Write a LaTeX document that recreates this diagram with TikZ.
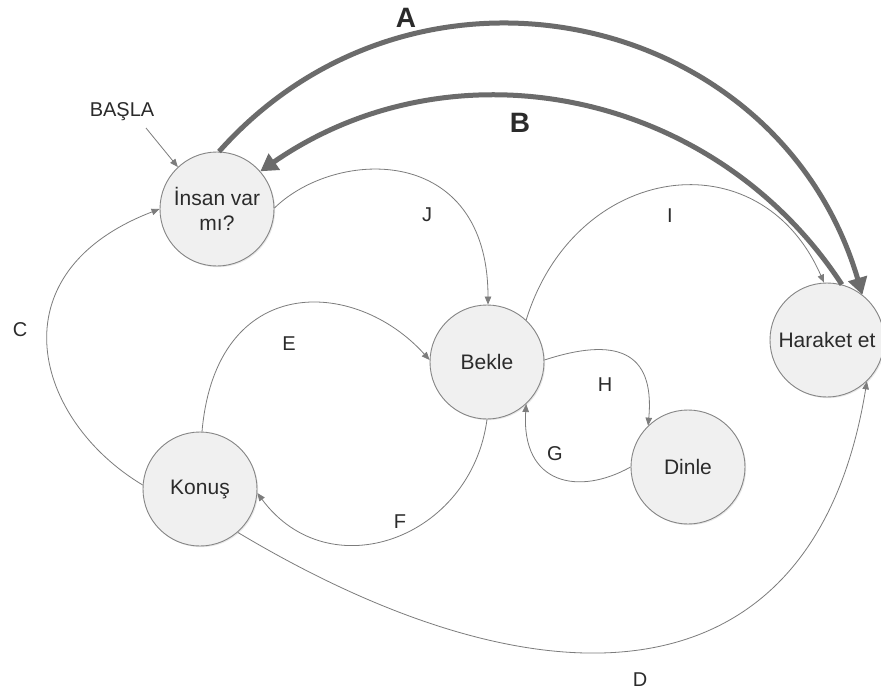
\documentclass[tikz,border=0pt]{standalone}
\usepackage{fontspec}
\setmainfont{Liberation Sans}
\usetikzlibrary{arrows.meta,shadows}

\definecolor{edgegray}{HTML}{7C7C7C}
\definecolor{thickgray}{HTML}{6B6B6B}
\definecolor{circfill}{HTML}{F0F0F0}
\definecolor{circline}{HTML}{858585}
\definecolor{inkgray}{HTML}{2B2B2B}

\tikzset{
  state/.style={circle, draw=circline, line width=0.9pt, fill=circfill,
    minimum size=114pt, inner sep=0pt, align=center, text=inkgray,
    font=\fontsize{21}{25}\selectfont,
    drop shadow={opacity=0.18, shadow xshift=1.2pt, shadow yshift=-1.2pt}},
  lbl/.style={inner sep=0pt, text=inkgray, font=\fontsize{20}{24}\selectfont},
  biglbl/.style={inner sep=0pt, text=inkgray, font=\fontsize{28}{32}\selectfont\bfseries},
  thinedge/.style={draw=edgegray, line width=0.8pt,
    -{Triangle[length=8pt,width=6.5pt]}},
  bigedge/.style={draw=thickgray, line width=5pt,
    -{Triangle[length=17pt,width=19pt]}}
}

\begin{document}
\begin{tikzpicture}[x=1pt,y=1pt]
  \useasboundingbox[fill=white] (0,0) rectangle (881,-696);

  % states
  \node[state] (ins) at (217,-209) {İnsan var\\mı?};
  \node[state] (bek) at (487,-362) {Bekle};
  \node[state] (har) at (827,-340) {Haraket et};
  \node[state] (kon) at (200,-489) {Konuş};
  \node[state] (din) at (688,-467) {Dinle};

  % start marker
  \node[lbl] (basla) at (122,-112) {BAŞLA};
  \coordinate (bstart) at (146,-128);
  \draw[thinedge] (bstart) -- (ins.133);

  % main transitions
  \draw[thinedge] (ins.1) .. controls (336,-148) and (488,-143) .. (bek.89);
  \draw[thinedge] (bek.47) .. controls (575,-162) and (760,-136) .. (har.93);
  \draw[thinedge] (kon.176) .. controls (34,-420) and (-7,-273) .. (ins.180);
  \draw[thinedge] (kon.88) .. controls (216,-272) and (355,-277) .. (bek.178);
  \draw[thinedge] (bek.270) .. controls (471,-539) and (329,-590) .. (kon.-4);
  \draw[thinedge] (bek.2) .. controls (615,-337) and (655,-350) .. (din.134);
  \draw[thinedge] (din.180) .. controls (579,-496) and (521,-485) .. (bek.-47);
  \draw[thinedge] (kon.-49) .. controls (543,-715) and (814,-708) .. (har.-46);

  % thick transitions
  \draw[bigedge] (ins.88) .. controls (416,70) and (778,-9) .. (har.52);
  \draw[bigedge] (har.75) .. controls (714,-89) and (453,-38) .. (ins.41);

  % transition labels
  \node[biglbl] (la) at (406,-18) {A};
  \node[biglbl] (lb) at (520,-123) {B};
  \node[lbl] (lj) at (427,-215) {J};
  \node[lbl] (li) at (670,-216) {I};
  \node[lbl] (lc) at (20,-330) {C};
  \node[lbl] (le) at (289,-344) {E};
  \node[lbl] (lh) at (605,-385) {H};
  \node[lbl] (lg) at (555,-454) {G};
  \node[lbl] (lf) at (400,-522) {F};
  \node[lbl] (ld) at (640,-680) {D};
\end{tikzpicture}
\end{document}
